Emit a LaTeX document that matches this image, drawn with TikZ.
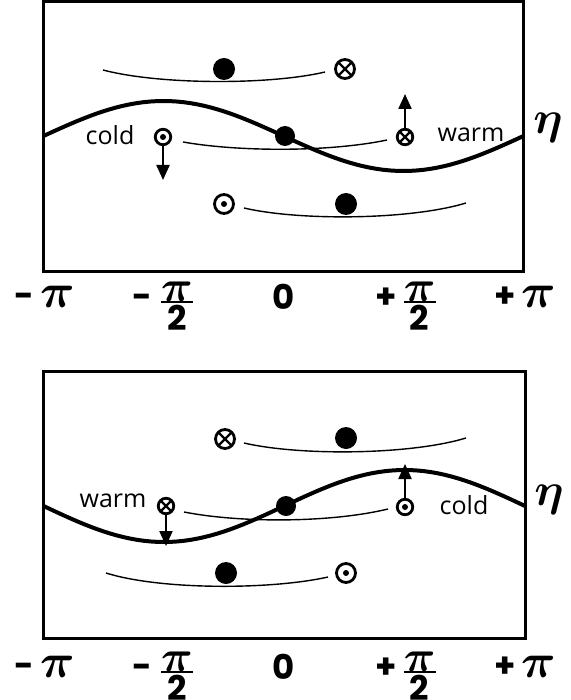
\documentclass[tikz,border=0pt]{standalone}
\usepackage{amsmath}
\usepackage{bm}
\usepackage{fontspec}
\setmainfont{Open Sans}
\newfontfamily\tickfont{Poppins}
\usetikzlibrary{arrows.meta}

\newcommand{\bpi}{\scalebox{4.8}{\normalsize$\bm{\pi}$}}
\newcommand{\halfpi}{$\genfrac{}{}{2.4pt}{1}{\raisebox{-3pt}[\height][\depth]{\scalebox{4.4}{\normalsize$\bm{\pi}$}}}{\raisebox{3pt}[\height][\depth]{2}}$}

\tikzset{
  frame/.style={line width=3pt},
  eta/.style={line width=4pt},
  stream/.style={line width=1.4pt},
  blob/.style={circle, fill, inner sep=0pt, minimum size=#1},
  blob/.default=22pt,
  outof/.style={circle, draw, line width=2.8pt, inner sep=0pt, minimum size=#1,
    path picture={\fill (path picture bounding box.center) circle (3pt);}},
  outof/.default=19pt,
  into/.style={circle, draw, line width=2.8pt, inner sep=0pt, minimum size=#1,
    path picture={\draw[line width=2.2pt]
      (path picture bounding box.south west) -- (path picture bounding box.north east)
      (path picture bounding box.north west) -- (path picture bounding box.south east);}},
  into/.default=19pt,
  flow/.style={line width=2.2pt, -{Triangle[width=13pt,length=15pt]}},
  word/.style={font=\fontsize{25}{25}\selectfont},
  tick/.style={anchor=base, font=\fontsize{34}{34}\selectfont\tickfont\bfseries},
  etalabel/.style={font=\normalsize}
}

\begin{document}
\begin{tikzpicture}[x=1pt,y=-1pt]
\useasboundingbox (0,0) rectangle (570,700);
% upper panel
\draw[frame] (43.5,1.5) rectangle (523.5,271.5);
\draw[stream] (103,70) .. controls (160,85) and (270,85) .. (325,72);
\draw[stream] (183,142) .. controls (240,152) and (330,152) .. (387,140);
\draw[stream] (244,208) .. controls (300,221) and (410,220) .. (466,203);
\draw[eta] plot[domain=-180:180,samples=73] ({283.5+\x/180*240},{136+35*sin(\x)});
\node[blob] (A1) at (224,69) {};
\node[into] (A2) at (345,69) {};
\node[word] (A3) at (110,135) {cold};
\node[outof=15.5pt] (A4) at (163,137) {};
\node[blob=20pt] (A5) at (285,136) {};
\node[into=15.5pt] (A6) at (405,137) {};
\node[word] (A7) at (471,135) {warm};
\node[outof] (A8) at (224,204) {};
\node[blob] (A9) at (346,204) {};
\node[etalabel] (A10) at (548,128) {\scalebox{4.6}{$\bm{\eta}$}};
\coordinate (A11) at (163,180);
\coordinate (A12) at (405,94);
\draw[flow] (A4) -- (A11);
\draw[flow] (A6) -- (A12);
\node[tick] (A13) at (45,307) {-\hspace{6pt}\bpi};
\node[tick] (A14) at (163,308) {-\hspace{8pt}\halfpi};
\node[tick] (A15) at (284,309) {0};
\node[tick] (A16) at (406,308) {+\hspace{6pt}\halfpi};
\node[tick] (A17) at (525,307) {+\hspace{6pt}\bpi};
% lower panel
\draw[frame] (43.5,371.5) rectangle (525,638.5);
\draw[stream] (244,443) .. controls (300,456) and (410,455) .. (466,438);
\draw[stream] (184,512) .. controls (240,523) and (330,523) .. (388,509);
\draw[stream] (106,573) .. controls (160,590) and (270,590) .. (328,577);
\draw[eta] plot[domain=-180:180,samples=73] ({284.25+\x/180*240.75},{506-36*sin(\x)});
\node[into] (B1) at (225,439) {};
\node[blob] (B2) at (346,438) {};
\node[word] (B3) at (113,501) {warm};
\node[into=15.5pt] (B4) at (166,506) {};
\node[blob=20pt] (B5) at (286,506) {};
\node[outof=15.5pt] (B6) at (405,507) {};
\node[word] (B7) at (464,505) {cold};
\node[blob] (B8) at (226,573) {};
\node[outof] (B9) at (346,573) {};
\node[etalabel] (B10) at (549,500) {\scalebox{4.6}{$\bm{\eta}$}};
\coordinate (B11) at (166,546);
\coordinate (B12) at (405,464);
\draw[flow] (B4) -- (B11);
\draw[flow] (B6) -- (B12);
\node[tick] (B13) at (45,677) {-\hspace{6pt}\bpi};
\node[tick] (B14) at (163,678) {-\hspace{8pt}\halfpi};
\node[tick] (B15) at (284,679) {0};
\node[tick] (B16) at (406,678) {+\hspace{6pt}\halfpi};
\node[tick] (B17) at (525,677) {+\hspace{6pt}\bpi};
\end{tikzpicture}
\end{document}
